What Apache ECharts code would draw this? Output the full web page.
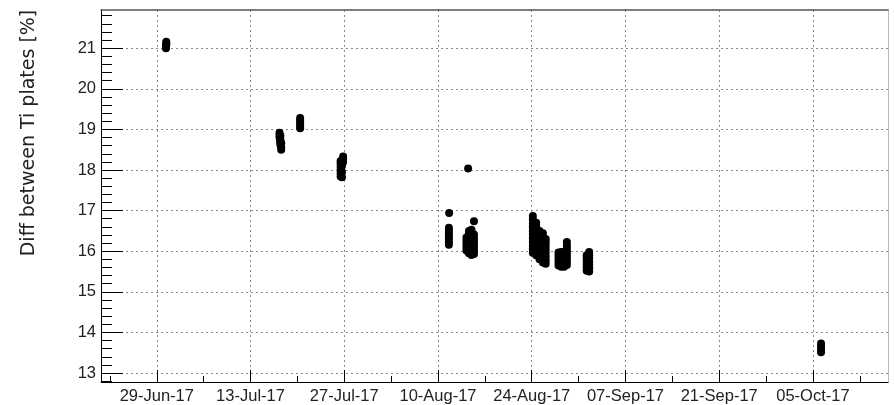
<!DOCTYPE html>
<html>
<head>
<meta charset="utf-8">
<script src="https://cdn.jsdelivr.net/npm/echarts@6/dist/echarts.min.js"></script>
<style>
  html, body { margin: 0; padding: 0; background: #fff; }
  #chart { width: 894px; height: 405px; }
</style>
</head>
<body>
<div id="chart"></div>
<script>
// Date axis is measured in days from this origin (UTC midnight)
const ORIGIN = Date.UTC(2017, 5, 29);
const DAY = 86400000;
const MONTHS = ['Jan','Feb','Mar','Apr','May','Jun','Jul','Aug','Sep','Oct','Nov','Dec'];

// Labelled date ticks
const dateTicks = ['2017-06-29','2017-07-13','2017-07-27','2017-08-10','2017-08-24','2017-09-07','2017-09-21','2017-10-05'];
// Labelled value ticks
const yTicks = [13, 14, 15, 16, 17, 18, 19, 20, 21];
const yTitle = 'Diff between Ti plates [%]';

// Measurement sessions: [time, [differences in %]]
const run0630 = [
  ['2017-06-30 09:00', [21.00, 21.04]],
  ['2017-06-30 10:00', [21.08, 21.12, 21.16]]
];
const run0717 = [
  ['2017-07-17 08:00', [18.92, 18.86, 18.80]],
  ['2017-07-17 11:00', [18.74, 18.68, 18.62, 18.84, 18.70]],
  ['2017-07-17 14:00', [18.56, 18.50, 18.66]]
];
const run0720 = [
  ['2017-07-20 10:00', [19.03, 19.08, 19.13, 19.18, 19.23, 19.28]]
];
const run0726 = [
  ['2017-07-26 11:00', [17.84, 17.92, 18.00, 18.08, 18.16, 18.22]],
  ['2017-07-26 16:00', [17.82, 17.95, 18.10]],
  ['2017-07-26 20:00', [18.20, 18.28, 18.33]]
];
const run0811 = [
  ['2017-08-11 15:00', [16.16, 16.22, 16.28, 16.34, 16.40, 16.46, 16.52, 16.58]],
  ['2017-08-11 16:00', [16.94]]
];
const run0814 = [
  ['2017-08-14 06:00', [16.02, 16.10, 16.18, 16.26, 16.34]],
  ['2017-08-14 12:00', [18.04]],
  ['2017-08-14 15:00', [15.95, 16.03, 16.11, 16.19, 16.27, 16.35, 16.43, 16.50]],
  ['2017-08-15 00:00', [15.91, 15.99, 16.07, 16.15, 16.23, 16.31, 16.39, 16.47, 16.53]],
  ['2017-08-15 09:00', [15.93, 16.01, 16.09, 16.17, 16.25, 16.33, 16.41, 16.74]]
];
const run0824 = [
  ['2017-08-24 04:00', [15.96, 16.05, 16.14, 16.23, 16.32, 16.41, 16.50, 16.59, 16.68, 16.78, 16.87]],
  ['2017-08-24 16:00', [15.90, 15.99, 16.08, 16.17, 16.26, 16.35, 16.44, 16.53, 16.62, 16.70]],
  ['2017-08-25 04:00', [15.80, 15.89, 15.98, 16.07, 16.16, 16.25, 16.34, 16.43, 16.50]],
  ['2017-08-25 16:00', [15.72, 15.81, 15.90, 15.99, 16.08, 16.17, 16.26, 16.35, 16.44]],
  ['2017-08-26 02:00', [15.69, 15.78, 15.87, 15.96, 16.05, 16.14, 16.22, 16.30]]
];
const run0828 = [
  ['2017-08-28 00:00', [15.65, 15.73, 15.81, 15.89, 15.97]],
  ['2017-08-28 10:00', [15.62, 15.70, 15.78, 15.86, 15.94, 15.98]],
  ['2017-08-28 20:00', [15.62, 15.70, 15.78, 15.86, 15.94, 15.98]],
  ['2017-08-29 06:00', [15.66, 15.74, 15.82, 15.90, 15.98, 16.06, 16.14, 16.23]]
];
const run0901 = [
  ['2017-09-01 05:00', [15.52, 15.60, 15.68, 15.76, 15.84, 15.90]],
  ['2017-09-01 14:00', [15.50, 15.58, 15.66, 15.74, 15.82, 15.90, 15.98]]
];
const run1006 = [
  ['2017-10-06 05:00', [13.51, 13.58, 13.65, 13.73]]
];

const runs = [run0630, run0717, run0720, run0726, run0811, run0814, run0824, run0828, run0901, run1006];

// Axis extents
const X_MIN = -8.33, X_MAX = 109.21;
const Y_MIN = 12.78, Y_MAX = 21.94;

function toDays(s) {
  const [d, t] = s.split(' ');
  const [yy, mm, dd] = d.split('-').map(Number);
  const [hh, mi] = (t || '00:00').split(':').map(Number);
  return (Date.UTC(yy, mm - 1, dd, hh, mi) - ORIGIN) / DAY;
}
function fmtDate(v) {
  const dt = new Date(ORIGIN + Math.round(v) * DAY);
  const dd = String(dt.getUTCDate()).padStart(2, '0');
  return dd + '-' + MONTHS[dt.getUTCMonth()] + '-' + String(dt.getUTCFullYear()).slice(2);
}

const majorX = dateTicks.map(toDays);
const minorX = [];
for (let v = majorX[0] - 7; v < X_MAX; v += 14) if (v > X_MIN) minorX.push(v);
const minorY = [];
for (let v = 12.8; v < Y_MAX; v += 0.2) {
  const r = Math.round(v * 10) / 10;
  if (Math.abs(r - Math.round(r)) > 0.01) minorY.push(r);
}

const FONT = 'Liberation Sans';
const labelStyle = { fontFamily: FONT, fontSize: 16.5, color: '#222' };
const gridLine = { color: '#8a8a8a', type: [2, 3], width: 1 };

const series = runs.map(run => ({
  type: 'scatter',
  xAxisIndex: 0,
  yAxisIndex: 0,
  symbol: 'circle',
  symbolSize: 8,
  itemStyle: { color: '#000', opacity: 1 },
  emphasis: { disabled: true },
  data: run.flatMap(([t, vals]) => vals.map(v => [toDays(t), v]))
}));

const chart = echarts.init(document.getElementById('chart'), null, { renderer: 'canvas' });
chart.setOption({
  animation: false,
  backgroundColor: '#fff',
  grid: { left: 101, right: 6, top: 10, bottom: 23, containLabel: false },
  xAxis: [
    {
      type: 'value', min: X_MIN, max: X_MAX, position: 'bottom',
      axisLine: { show: true, onZero: false, lineStyle: { color: '#000', width: 1 } },
      axisTick: { show: true, inside: true, length: 12, customValues: majorX, lineStyle: { color: '#000' } },
      axisLabel: Object.assign({ show: true, customValues: majorX, formatter: fmtDate, margin: 6 }, labelStyle),
      splitLine: { show: true, lineStyle: gridLine }
    },
    {
      type: 'value', min: X_MIN, max: X_MAX, position: 'bottom',
      axisLine: { show: false, onZero: false },
      axisTick: { show: true, inside: true, length: 6, customValues: minorX, lineStyle: { color: '#000' } },
      axisLabel: { show: false },
      splitLine: { show: false }
    },
    {
      type: 'value', min: X_MIN, max: X_MAX, position: 'top',
      axisLine: { show: true, onZero: false, lineStyle: { color: '#555', width: 1.5 } },
      axisTick: { show: false }, axisLabel: { show: false }, splitLine: { show: false }
    }
  ],
  yAxis: [
    {
      type: 'value', min: Y_MIN, max: Y_MAX, position: 'left',
      axisLine: { show: true, onZero: false, lineStyle: { color: '#000', width: 1 } },
      axisTick: { show: true, inside: true, length: 22, customValues: yTicks, lineStyle: { color: '#000' } },
      axisLabel: Object.assign({ show: true, customValues: yTicks, margin: 5 }, labelStyle),
      splitLine: { show: true, lineStyle: gridLine }
    },
    {
      type: 'value', min: Y_MIN, max: Y_MAX, position: 'left',
      axisLine: { show: false, onZero: false },
      axisTick: { show: true, inside: true, length: 11, customValues: minorY, lineStyle: { color: '#000' } },
      axisLabel: { show: false },
      splitLine: { show: false }
    },
    {
      type: 'value', min: Y_MIN, max: Y_MAX, position: 'right',
      axisLine: { show: true, onZero: false, lineStyle: { color: '#bbb', width: 1 } },
      axisTick: { show: false }, axisLabel: { show: false }, splitLine: { show: false }
    }
  ],
  graphic: [{
    type: 'text',
    x: 29, y: 133,
    rotation: Math.PI / 2,
    style: {
      text: yTitle,
      fontFamily: 'DejaVu Sans',
      fontSize: 19,
      fill: '#222',
      textAlign: 'center',
      textVerticalAlign: 'middle'
    }
  }],
  series: series
});
</script>
</body>
</html>
